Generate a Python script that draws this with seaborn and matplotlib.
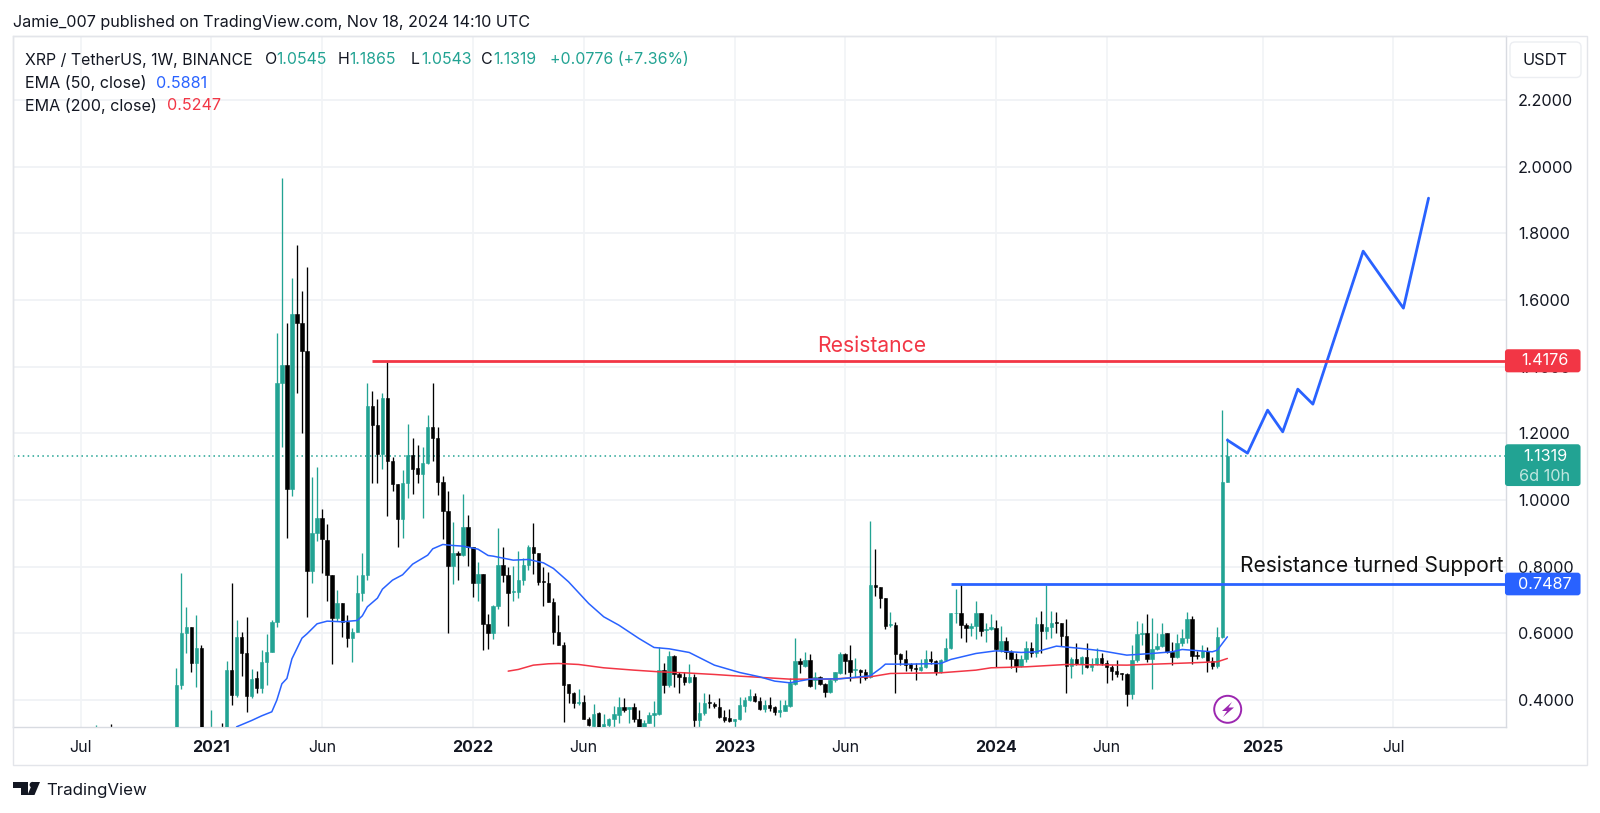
import matplotlib
matplotlib.use("Agg")
import matplotlib.pyplot as plt
from matplotlib.patches import Circle, FancyBboxPatch, Polygon, Rectangle
import numpy as np
import pandas as pd
import seaborn as sns

TEAL = "#22a393"
BLUE = "#2962ff"
RED = "#f23645"
TEXT = "#131722"
GRID = "#f1f3f6"
EDGE = "#e3e5ea"

# weekly candles, oldest first, last one is the week of Nov 18 2024
opens = [
    .22, .26, .24, .25, .24, .23, .24, .25, .24, .24, .25, .24, .25, .25, .26, .28,
    .27, .444, .602, .62, .511, .555, .29, .24, .31, .26,
    .24, .49, .415, .59, .54, .412, .465, .436, .513, .543,
    .635, 1.35, 1.406, 1.033, 1.558, 1.53, 1.448, .787, .9, .945,
    .881, .774, .645, .692, .635, .585, .604, .722, .776, 1.282,
    1.224, 1.137, 1.306, 1.116, 1.047, .942, 1.051, 1.135, 1.095, 1.079,
    1.111, 1.219, 1.185, 1.055, .966, .803, .84,
    .835, .918, .858, .752, .778, .627, .6, .683, .805, .775,
    .725, .725, .76, .805, .858, .842, .756, .752, .695, .605,
    .565, .448, .422, .39, .393, .342, .322, .36, .32, .325,
    .342, .355, .378, .374, .378, .342, .32, .33, .355, .357,
    .49, .445, .532, .477, .47, .455, .47, .34, .36, .395,
    .388, .38,
    .348, .345, .338, .342, .382, .4, .413, .398, .373, .385,
    .378, .365, .368, .382, .447, .517, .502, .52, .46, .47,
    .447, .423, .46, .48, .537, .52, .49, .49, .485, .47,
    .745, .738, .705, .625, .625, .537, .522, .507, .495, .49,
    .5, .522, .517, .485, .52, .555, .66, .66, .625, .615,
    .623,
    .662, .61, .613, .615, .55, .576, .545, .522, .502, .523,
    .555, .54, .628, .607, .618, .634, .63, .593, .502, .522,
    .507, .53, .498, .508, .526, .512, .5, .488, .48, .478,
    .418, .52, .597, .6, .522, .552, .562, .6, .544, .528,
    .57, .587, .642, .535, .53, .546, .517, .502, .588, 1.0545,
]
highs = [
    .325, .30, .28, .327, .27, .26, .27, .28, .26, .26, .27, .26, .27, .29, .29, .31,
    .495, .78, .68, .62, .656, .566, .30, .37, .315, .33,
    .517, .752, .64, .604, .65, .492, .487, .55, .597, .64,
    1.5, 1.966, 1.53, 1.665, 1.765, 1.626, 1.70, 1.069, 1.098, .974,
    .928, .776, .731, .692, .656, .617, .776, .84, 1.35, 1.326,
    1.304, 1.322, 1.414, 1.13, 1.047, 1.089, 1.229, 1.186, 1.164, 1.159,
    1.256, 1.35, 1.219, 1.071, 1.028, .935, .846,
    1.017, .955, .858, .815, .778, .658, .685, .917, .86, .8,
    .802, .847, .825, .865, .93, .842, .8, .785, .705, .655,
    .575, .448, .425, .432, .415, .35, .387, .365, .357, .345,
    .382, .408, .405, .378, .392, .37, .34, .365, .398, .558,
    .51, .548, .535, .485, .485, .508, .478, .395, .42, .418,
    .395, .405,
    .37, .372, .342, .408, .41, .432, .42, .408, .4, .408,
    .382, .4, .4, .465, .585, .525, .545, .538, .485, .472,
    .452, .465, .485, .545, .54, .565, .525, .492, .492, .937,
    .853, .74, .705, .665, .635, .54, .55, .51, .51, .522,
    .55, .548, .52, .522, .585, .662, .732, .748, .632, .632,
    .698,
    .662, .63, .658, .64, .623, .588, .55, .54, .535, .578,
    .573, .65, .668, .745, .668, .663, .632, .642, .53, .57,
    .532, .57, .525, .555, .54, .52, .505, .52, .482, .48,
    .565, .637, .632, .658, .645, .6, .632, .602, .575, .598,
    .612, .665, .653, .548, .565, .56, .53, .618, 1.27, 1.1865,
]
lows = [
    .2, .23, .22, .23, .22, .21, .23, .23, .22, .23, .24, .23, .24, .24, .25, .26,
    .26, .433, .542, .484, .438, .28, .22, .23, .25, .23,
    .24, .385, .41, .473, .363, .405, .422, .42, .444, .543,
    .62, 1.16, .887, 1.012, 1.32, 1.2, .65, .752, .878, .781,
    .696, .508, .637, .588, .56, .515, .604, .696, .76, 1.05,
    1.05, 1.092, .953, 1.028, .858, .886, 1.006, 1.017, 1.05, .947,
    1.108, 1.117, 1.015, .883, .6, .747, .76,
    .832, .802, .71, .698, .55, .552, .582, .672, .755, .622,
    .697, .705, .745, .79, .778, .745, .682, .695, .568, .565,
    .335, .39, .375, .385, .342, .322, .32, .32, .31, .32,
    .32, .33, .365, .332, .335, .31, .31, .33, .32, .355,
    .42, .44, .44, .422, .445, .45, .32, .32, .355, .375,
    .375, .345,
    .335, .335, .32, .34, .365, .398, .394, .37, .363, .368,
    .355, .35, .368, .38, .445, .48, .5, .44, .432, .445,
    .41, .42, .455, .478, .478, .458, .47, .452, .46, .465,
    .712, .675, .612, .62, .422, .505, .488, .488, .46, .488,
    .495, .507, .475, .48, .518, .553, .63, .585, .575, .592,
    .582,
    .593, .575, .61, .5, .545, .522, .497, .485, .5, .515,
    .53, .53, .54, .582, .585, .602, .562, .42, .465, .505,
    .478, .495, .487, .505, .505, .45, .46, .468, .46, .383,
    .402, .515, .565, .515, .432, .55, .56, .542, .505, .525,
    .562, .572, .508, .522, .525, .485, .492, .495, .585, 1.0543,
]
closes = [
    .26, .24, .25, .24, .23, .24, .25, .24, .24, .25, .24, .25, .25, .26, .28, .27,
    .444, .602, .62, .511, .555, .29, .24, .31, .26, .24,
    .49, .415, .588, .54, .412, .462, .435, .513, .543, .635,
    1.35, 1.406, 1.033, 1.558, 1.53, 1.448, .787, .9, .945, .883,
    .774, .645, .692, .635, .585, .604, .722, .776, 1.282, 1.224,
    1.137, 1.306, 1.116, 1.047, .942, 1.051, 1.135, 1.092, 1.079, 1.111,
    1.219, 1.185, 1.055, .966, .803, .84, .835,
    .918, .858, .752, .778, .627, .6, .683, .805, .775, .72,
    .728, .76, .805, .858, .842, .753, .753, .695, .605, .565,
    .445, .422, .39, .393, .342, .325, .358, .32, .327, .342,
    .357, .378, .37, .378, .342, .32, .332, .355, .36, .49,
    .445, .532, .477, .47, .455, .47, .34, .36, .39, .39,
    .382, .348,
    .34, .338, .342, .385, .4, .413, .398, .373, .385, .375,
    .363, .37, .385, .45, .517, .507, .52, .442, .47, .447,
    .423, .46, .483, .537, .518, .485, .492, .485, .465, .745,
    .738, .705, .622, .628, .537, .522, .505, .495, .493, .5,
    .523, .517, .485, .52, .555, .66, .662, .625, .615, .623,
    .662,
    .608, .612, .618, .552, .576, .545, .522, .502, .523, .555,
    .542, .628, .607, .618, .632, .63, .593, .502, .522, .507,
    .53, .498, .508, .526, .51, .498, .488, .478, .478, .418,
    .52, .598, .602, .522, .552, .562, .598, .544, .53, .57,
    .587, .642, .533, .533, .548, .517, .502, .588, 1.053, 1.1319,
]

# moving averages, weeks before the last candle
ema50_weeks = [197, 194, 192, 190, 189, 188, 187, 186, 184, 183, 181, 179, 176, 173, 172, 171,
               169, 168, 166, 164, 162, 159, 158, 156, 154, 152, 149, 147, 146, 142, 139, 136,
               134, 131, 127, 124, 121, 117, 114, 111, 107, 102, 97, 93, 90, 87, 83, 77, 71,
               69, 68, 63, 57, 55, 50, 46, 41, 38, 34, 29, 25, 20, 15, 11, 9, 3, 2, 0]
ema50_vals = [.32, .339, .353, .365, .40, .449, .465, .524, .586, .599, .629, .637, .635, .639, .653, .68,
              .706, .733, .76, .776, .808, .835, .854, .867, .864, .862, .853, .834, .832, .82, .822, .812,
              .795, .755, .69, .65, .625, .585, .558, .554, .543, .505, .483, .47, .457, .452, .463, .464, .473,
              .495, .508, .508, .51, .522, .54, .548, .543, .545, .562, .555, .548, .535, .54, .545, .552, .545, .55, .59]
ema200_weeks = [143, 141, 138, 135, 133, 129, 124, 118, 113, 108, 102, 97, 87, 79, 71, 67, 57, 50, 47, 40, 32, 20, 7, 2, 0]
ema200_vals = [.487, .492, .505, .509, .51, .507, .497, .49, .485, .482, .477, .472, .463, .463, .47, .48, .482, .49, .497, .50, .507, .505, .512, .515, .525]

# hand drawn projection, weeks after the last candle
path_weeks = [0, 4, 8, 11, 14, 17, 27, 35, 40]
path_vals = [1.18, 1.141, 1.27, 1.205, 1.333, 1.288, 1.747, 1.576, 1.906]

resistance = 1.4176
support = 0.7487
last_price = 1.1319

price_ticks = [0.4, 0.6, 0.8, 1.0, 1.2, 1.4, 1.6, 1.8, 2.0, 2.2]
time_ticks = [-228, -202, -180, -150, -128, -98, -76, -46, -24, 7, 33]
time_labels = ["Jul", "2021", "Jun", "2022", "Jun", "2023", "Jun", "2024", "Jun", "2025", "Jul"]

sns.set_theme(style="white")
plt.rcParams["font.family"] = ["Inter", "DejaVu Sans"]

df = pd.DataFrame({"open": opens, "high": highs, "low": lows, "close": closes})
df["week"] = np.arange(len(df)) - (len(df) - 1)
df["color"] = np.where(df["close"] >= df["open"], TEAL, "black")

fig = plt.figure(figsize=(16, 8.13), dpi=100, facecolor="white")
W, H = 1600, 813
L, R, T, B = 13.3, 1505.5, 36.5, 727.3
ax = fig.add_axes([L / W, 1 - B / H, (R - L) / W, (B - T) / H])
ax.set_xlim(-241.4, 55.3)
ax.set_ylim(0.3185, 2.391)

ax.hlines(price_ticks, -241.4, 55.3, color=GRID, lw=1.4, zorder=0)
ax.vlines(time_ticks, 0.3185, 2.391, color=GRID, lw=1.2, zorder=0)
ax.axhline(last_price, color=TEAL, lw=1.1, ls=(0, (1, 2.2)), zorder=1)

# candles
ax.vlines(df["week"], df["low"], df["high"], colors=df["color"], lw=0.95, zorder=2)
ax.bar(df["week"], (df["close"] - df["open"]).abs(), bottom=df[["open", "close"]].min(axis=1),
       width=0.68, color=df["color"], edgecolor=df["color"], linewidth=0.4, zorder=3)

sns.lineplot(x=[-w for w in ema200_weeks], y=ema200_vals, ax=ax, color=RED, lw=1.1, sort=False, errorbar=None, zorder=4)
sns.lineplot(x=[-w for w in ema50_weeks], y=ema50_vals, ax=ax, color=BLUE, lw=1.1, sort=False, errorbar=None, zorder=4)
sns.lineplot(x=path_weeks, y=path_vals, ax=ax, color=BLUE, lw=2.0, sort=False, errorbar=None, zorder=5)

ax.hlines(resistance, -170, 55.3, color=RED, lw=2.0, zorder=5)
ax.hlines(support, -55, 55.3, color=BLUE, lw=2.0, zorder=5)

ax.yaxis.tick_right()
ax.set_yticks(price_ticks, [f"{p:.4f}" for p in price_ticks])
ax.set_xticks(time_ticks, time_labels)
ax.tick_params(axis="y", length=0, pad=9, labelsize=11.7, labelcolor=TEXT)
ax.tick_params(axis="x", length=0, pad=9, labelsize=11.5, labelcolor=TEXT)
for lab in ax.get_xticklabels():
    if lab.get_text().startswith("20"):
        lab.set_fontweight("bold")
for side in ["top", "left"]:
    ax.spines[side].set_color(EDGE)
for side in ["bottom", "right"]:
    ax.spines[side].set_color("#d8dbe1")
for s in ax.spines.values():
    s.set_linewidth(1.0)

# everything else sits on an overlay in pixel coordinates
ov = fig.add_axes([0, 0, 1, 1], zorder=10)
ov.set_xlim(0, W)
ov.set_ylim(H, 0)
ov.axis("off")
ov.patch.set_alpha(0)
ov.add_patch(Rectangle((L, T), 1586.7 - L, 765 - T, fill=False, ec=EDGE, lw=1.0))

ov.text(13.4, 22.5, "Jamie_007 published on TradingView.com, Nov 18, 2024 14:10 UTC",
        fontsize=11.65, color=TEXT, va="center")

head = [(25, "XRP / TetherUS, 1W, BINANCE", TEXT), (264.5, "O", TEXT), (276.5, "1.0545", TEAL),
        (338, "H", TEXT), (349.5, "1.1865", TEAL), (410.5, "L", TEXT), (421, "1.0543", TEAL),
        (481, "C", TEXT), (493, "1.1319", TEAL), (550, "+0.0776 (+7.36%)", TEAL)]
for x, s, c in head:
    ov.text(x, 60, s, fontsize=11.45, color=c, va="center")
ov.text(25, 83, "EMA (50, close)", fontsize=11.6, color=TEXT, va="center")
ov.text(156, 83, "0.5881", fontsize=11.6, color=BLUE, va="center")
ov.text(25, 106, "EMA (200, close)", fontsize=11.6, color=TEXT, va="center")
ov.text(166.5, 106, "0.5247", fontsize=11.6, color=RED, va="center")

ov.text(872, 345.5, "Resistance", fontsize=15.2, color=RED, ha="center", va="center")
ov.text(1504, 566, "Resistance turned Support", fontsize=15.1, color="#111111", ha="right", va="center")


def badge(y0, y1, color):
    ov.add_patch(FancyBboxPatch((1506, y0 + 1), 73.5, y1 - y0 - 2, boxstyle="round,pad=0,rounding_size=2",
                                fc=color, ec=color, lw=1.5, mutation_aspect=1))


badge(349.3, 372.3, RED)
ov.text(1545, 360.5, "1.4176", fontsize=11.7, color="white", ha="center", va="center")
badge(444.3, 486, TEAL)
ov.text(1545, 456, "1.1319", fontsize=11.7, color="white", ha="center", va="center")
ov.text(1545, 476.5, "6d 10h", fontsize=11.7, color="#bfe6df", ha="center", va="center")
badge(572.7, 595.3, BLUE)
ov.text(1545, 584, "0.7487", fontsize=11.7, color="white", ha="center", va="center")

ov.add_patch(FancyBboxPatch((1510, 42), 71, 35.5, boxstyle="round,pad=0,rounding_size=5",
                            fc="white", ec="#eceef2", lw=1.0))
ov.text(1545.5, 60.5, "USDT", fontsize=11.8, color=TEXT, ha="center", va="center")

# earnings style marker under the last candle
ov.add_patch(Circle((1227.7, 709.3), 13.5, fc="white", ec="#9c27b0", lw=1.4))
ov.add_patch(Polygon([(1232, 702), (1222, 711), (1227, 711), (1223, 717), (1234, 707.5), (1228.5, 707.5)],
                     fc="#9c27b0", ec="none"))

# logo
ov.add_patch(Polygon([(13.3, 782), (28.3, 782), (28.3, 795), (21, 795), (21, 787.5), (13.3, 787.5)], fc=TEXT, ec="none"))
ov.add_patch(Circle((32.5, 784.8), 2.9, fc=TEXT, ec="none"))
ov.add_patch(Polygon([(40, 782), (34.5, 795), (27.5, 795), (33, 782)], fc=TEXT, ec="none"))
ov.text(46, 790.5, "TradingView", fontsize=12.2, color=TEXT, va="center")

assert len(opens) == len(highs) == len(lows) == len(closes)
fig.savefig("out.png", dpi=100, facecolor="white")
